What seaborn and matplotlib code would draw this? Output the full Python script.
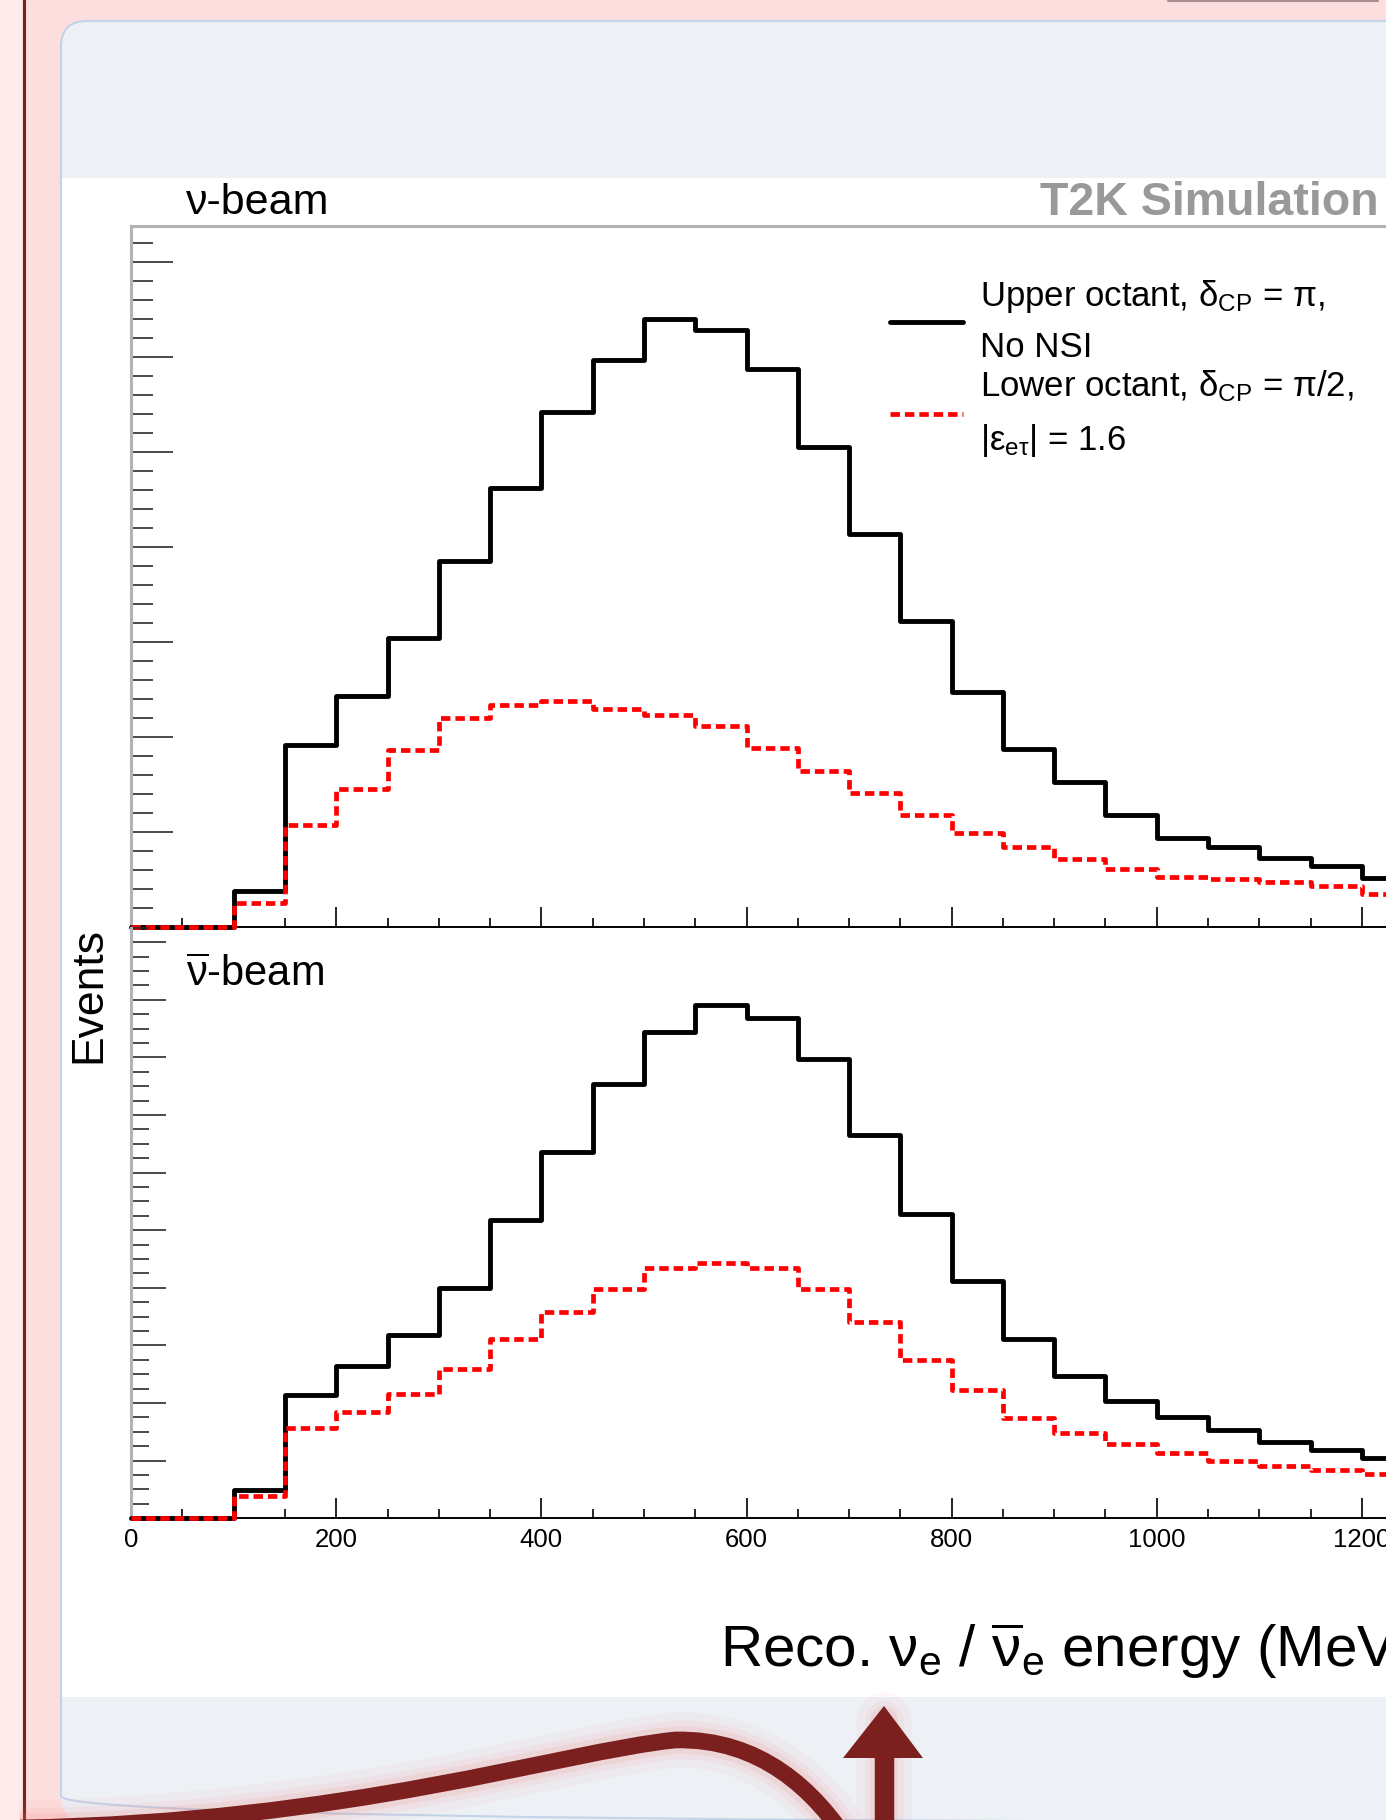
import numpy as np
import matplotlib
matplotlib.use("Agg")
import matplotlib.pyplot as plt
import seaborn as sns
from matplotlib.patches import FancyBboxPatch, Rectangle, Polygon, PathPatch
from matplotlib.path import Path
from matplotlib.ticker import MultipleLocator

# bins (MeV) and event counts
edges = list(range(0, 1300, 50))
centers = [e + 25 for e in edges[:-1]]

nu_upper = [0, 0, 1.9, 9.63, 12.21, 15.22, 19.28, 23.13, 27.15, 29.87, 32.0, 31.47, 29.37,
            25.3, 20.73, 16.12, 12.4, 9.39, 7.64, 5.9, 4.69, 4.26, 3.67, 3.23, 2.58]
nu_lower = [0, 0, 1.27, 5.42, 7.29, 9.33, 11.0, 11.73, 11.9, 11.51, 11.18, 10.62, 9.46,
            8.22, 7.07, 5.94, 4.98, 4.22, 3.63, 3.08, 2.68, 2.57, 2.4, 2.18, 1.75]
anu_upper = [0, 0, 0.97, 4.29, 5.29, 6.35, 8.01, 10.36, 12.73, 15.06, 16.88, 17.83, 17.38,
             15.94, 13.29, 10.56, 8.24, 6.22, 4.94, 4.08, 3.52, 3.06, 2.66, 2.36, 2.09]
anu_lower = [0, 0, 0.76, 3.12, 3.69, 4.32, 5.18, 6.22, 7.15, 7.97, 8.68, 8.88, 8.68,
             7.97, 6.80, 5.48, 4.45, 3.49, 2.96, 2.57, 2.26, 1.99, 1.80, 1.66, 1.53]

x_ticks = [0, 200, 400, 600, 800, 1000, 1200]
label_upper = "Upper octant, $\\mathregular{\\delta_{CP}}$ = $\\mathregular{\\pi}$,\nNo NSI"
label_lower = ("Lower octant, $\\mathregular{\\delta_{CP}}$ = $\\mathregular{\\pi}$/2,\n"
               "|$\\mathregular{\\varepsilon_{e\\tau}}$| = 1.6")

sns.set_theme(style="white")
plt.rcParams['font.family'] = ['Liberation Sans', 'DejaVu Sans']
plt.rcParams['mathtext.fontset'] = 'custom'
plt.rcParams['mathtext.rm'] = 'Liberation Sans'
plt.rcParams['mathtext.it'] = 'Liberation Sans:italic'
plt.rcParams['mathtext.bf'] = 'Liberation Sans:bold'
plt.rcParams['text.color'] = 'black'

W, H = 1386, 1820
fig = plt.figure(figsize=(W / 100, H / 100), dpi=100)
fig.patch.set_facecolor('#fddede')

# screenshot frame drawn in pixel coordinates
bg = fig.add_axes([0, 0, 1, 1], zorder=-10)
bg.set_xlim(0, W)
bg.set_ylim(H, 0)
bg.axis('off')
bg.add_patch(Rectangle((0, 0), 22, H, fc='#fdeaea', ec='none'))
bg.plot([24, 24], [0, H], color='#7b2020', lw=2.2)
bg.plot([1168, 1378], [1, 1], color='#a89090', lw=1.5)
bg.add_patch(FancyBboxPatch((61, 21), 1500, 1801, boxstyle="round,pad=0,rounding_size=26",
                            fc='#edf1f6', ec='none'))
bg.add_patch(Rectangle((61, 178), 1400, 1519, fc='white', ec='none'))
bg.add_patch(FancyBboxPatch((61, 21), 1500, 1801, boxstyle="round,pad=0,rounding_size=26",
                            fc='none', ec='#c3d3e8', lw=1.5))

# curved arrow at the bottom
verts = [(20, 1828), (350, 1822), (560, 1752), (675, 1740),
         (760, 1738), (815, 1790), (850, 1845)]
curve = Path(verts, [Path.MOVETO] + [Path.CURVE4] * 6)
for lw, a in [(40, 0.05), (28, 0.08), (20, 0.12)]:
    bg.add_patch(PathPatch(curve, fc='none', ec='#f07a7a', lw=lw, alpha=a, zorder=3))
    bg.plot([884, 884], [1840, 1720], color='#f07a7a', lw=lw, alpha=a, zorder=3)
bg.add_patch(PathPatch(curve, fc='none', ec='#7b1f1f', lw=12, zorder=4))
bg.plot([884, 884], [1840, 1752], color='#7b1f1f', lw=14, solid_capstyle='butt', zorder=4)
bg.add_patch(Polygon([(843, 1758), (923, 1758), (884, 1706)], closed=True,
                     fc='#7b1f1f', ec='none', zorder=5))


def px_axes(x0, y0, x1, y1):
    return fig.add_axes([x0 / W, 1 - y1 / H, (x1 - x0) / W, (y1 - y0) / H])


X0 = 131.2
XR = X0 + 1250 * 1.0255
ax1 = px_axes(X0, 226.4, XR, 927.5)
ax2 = px_axes(X0, 927.5, XR, 1518.3)

panels = [(ax1, nu_upper, nu_lower, 36.9, 5, 1, 30, 15.5),
          (ax2, anu_upper, anu_lower, 20.51, 2, 0.5, 25, 13.3)]
for ax, up, lo, ytop, ymaj, ymin, lmaj, lmin in panels:
    ax.set_facecolor('none')
    sns.histplot(x=centers, weights=up, bins=edges, element='step', fill=False,
                 color='black', linewidth=3.5, clip_on=False, zorder=3, ax=ax)
    sns.histplot(x=centers, weights=lo, bins=edges, element='step', fill=False,
                 color='#ff0000', linewidth=3.4, linestyle=(0, (2.0, 1.05)),
                 clip_on=False, zorder=3.1, ax=ax)
    ax.set_xlim(0, 1250)
    ax.set_ylim(0, ytop)
    ax.set_xlabel('')
    ax.set_ylabel('')
    ax.xaxis.set_major_locator(MultipleLocator(200))
    ax.xaxis.set_minor_locator(MultipleLocator(50))
    ax.yaxis.set_major_locator(MultipleLocator(ymaj))
    ax.yaxis.set_minor_locator(MultipleLocator(ymin))
    ax.tick_params(axis='x', which='major', direction='in', length=14.4, width=1.2,
                   color='black', bottom=True, top=False)
    ax.tick_params(axis='x', which='minor', direction='in', length=6.5, width=1.2,
                   color='black', bottom=True, top=False)
    ax.tick_params(axis='y', which='major', direction='in', length=lmaj, width=1.2,
                   color='#2a2a2a', left=True, right=False, labelleft=False)
    ax.tick_params(axis='y', which='minor', direction='in', length=lmin, width=1.2,
                   color='#2a2a2a', left=True, right=False)
    ax.spines['left'].set_color('#b3b3b3')
    ax.spines['left'].set_linewidth(2.2)
    ax.spines['bottom'].set_color('black')
    ax.spines['bottom'].set_linewidth(1.4)
    ax.spines['right'].set_visible(False)

ax1.spines['top'].set_color('#b3b3b3')
ax1.spines['top'].set_linewidth(2.2)
ax2.spines['top'].set_visible(False)
ax1.tick_params(axis='x', labelbottom=False)
ax2.set_xticks(x_ticks)
ax2.set_xticklabels([str(v) for v in x_ticks])
ax2.tick_params(axis='x', which='major', labelsize=18.5, pad=7, labelcolor='black')

leg = ax1.legend(handles=[ax1.lines[0], ax1.lines[1]], labels=[label_upper, label_lower],
                 loc='upper left', bbox_to_anchor=(0.592, 0.926), frameon=False, fontsize=25,
                 handlelength=2.1, handletextpad=0.5, labelspacing=0.12, borderpad=0,
                 borderaxespad=0)
for t in leg.get_texts():
    t.set_linespacing(1.62)

fig.text(186 / W, 1 - 214 / H, "ν-beam", fontsize=31, ha='left', va='baseline')
fig.text(186 / W, 1 - 986 / H, "$\\mathregular{\\overline{\\nu}}$-beam", fontsize=30,
         ha='left', va='baseline')
fig.text(1379 / W, 1 - 215 / H, "T2K Simulation", fontsize=33.5, fontweight='bold',
         color='#999999', ha='right', va='baseline')
fig.text(89 / W, 1 - 995 / H, "Events", fontsize=32, rotation=90, ha='center', va='center')
fig.text(720 / W, 1 - 1667 / H,
         "Reco. $\\mathregular{\\nu_e}$ / $\\mathregular{\\overline{\\nu}_e}$ energy (MeV)",
         fontsize=42, ha='left', va='baseline')

fig.savefig("out.png", dpi=100)
